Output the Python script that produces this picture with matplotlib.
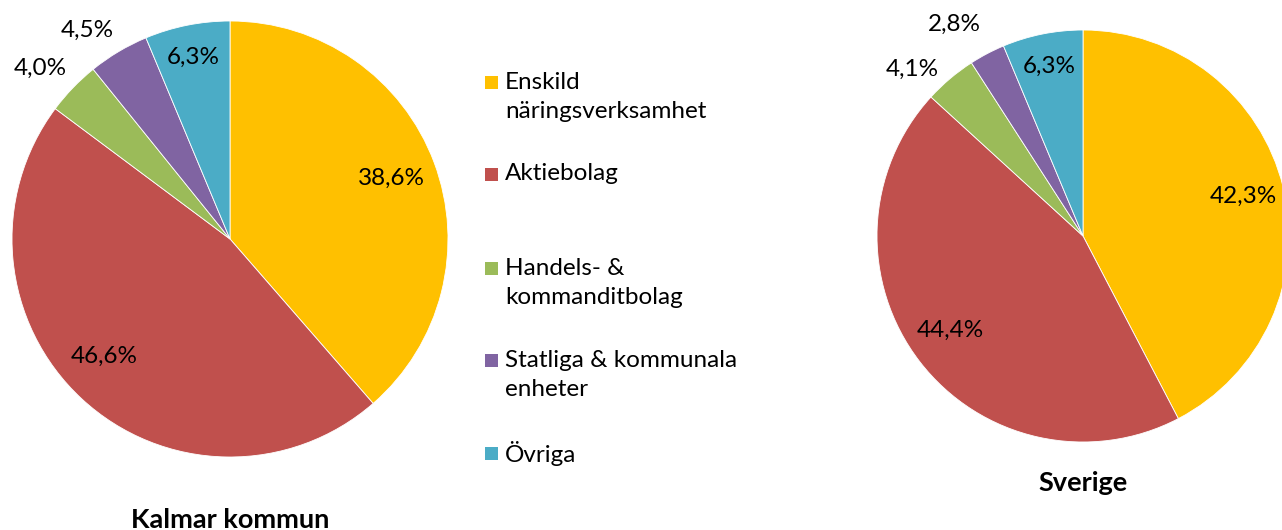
import numpy as np
import matplotlib.pyplot as plt
from matplotlib.patches import Rectangle

# data
categories = ['Enskild\nnäringsverksamhet', 'Aktiebolag', 'Handels- &\nkommanditbolag',
              'Statliga & kommunala\nenheter', 'Övriga']
kalmar = [38.6, 46.6, 4.0, 4.5, 6.3]
sverige = [42.3, 44.4, 4.1, 2.8, 6.3]
colors = ['#FFC000', '#C0504D', '#9BBB59', '#8064A2', '#4BACC6']

plt.rcParams['font.family'] = ['Lato', 'DejaVu Sans']
W, H = 1282, 530
fig = plt.figure(figsize=(W / 100, H / 100), dpi=100)

def pie_axes(cx, cy, r):
  return fig.add_axes([(cx - r) / W, (H - cy - r) / H, 2 * r / W, 2 * r / H])

def draw_pie(ax, values, dists, shifts, title, title_y):
  wedges, _ = ax.pie(values, colors=colors, startangle=90, counterclock=False,
                     radius=1, wedgeprops=dict(linewidth=0.6, edgecolor='white'))
  for w, v, d, s in zip(wedges, values, dists, shifts):
    a = np.deg2rad((w.theta1 + w.theta2) / 2 + s)
    ax.text(d * np.cos(a), d * np.sin(a), f'{v:.1f}%'.replace('.', ','),
            ha='center', va='center', fontsize=17.5, color='black')
  ax.set_xlim(-1, 1)
  ax.set_ylim(-1, 1)
  ax.set_aspect('equal')
  ax.axis('off')
  ax.text(0, title_y, title, ha='center', va='center', fontsize=19.5, fontweight='bold')

ax1 = pie_axes(230, 239, 218)
draw_pie(ax1, kalmar, [0.79, 0.79, 1.17, 1.16, 0.85], [0, -4, 2, 3.5, 0],
         'Kalmar kommun', -1.29)

ax2 = pie_axes(1083, 236, 206)
draw_pie(ax2, sverige, [0.80, 0.79, 1.16, 1.20, 0.84], [0, -2, 5.5, 3.5, 0],
         'Sverige', -1.20)

# legend
legend_y = [97, 174, 283, 375, 453]
for lab, c, y in zip(categories, colors, legend_y):
  fig.patches.append(Rectangle((485 / W, (H - y - 7 + (15 if '\n' in lab else 0)) / H),
                               13 / W, 13 / H, transform=fig.transFigure,
                               facecolor=c, edgecolor='none'))
  fig.text(505 / W, (H - y) / H, lab, ha='left', va='center', fontsize=17.5,
           linespacing=1.45)

fig.savefig('out.png', dpi=100)
